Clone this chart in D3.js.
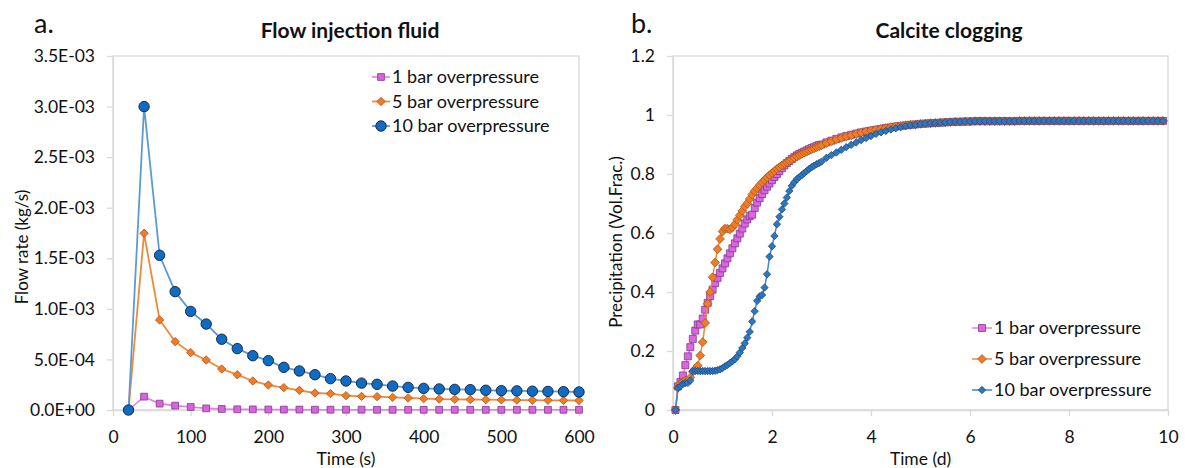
<!DOCTYPE html>
<html lang="en">
<head>
<meta charset="utf-8">
<title>Flow injection fluid / Calcite clogging</title>
<script src="https://d3js.org/d3.v7.min.js"></script>
<style>
  body { margin: 0; background: #fff; }
  svg text { font-family: Lato, "Open Sans", sans-serif; fill: #111; }
</style>
</head>
<body>
<svg id="chart" width="1185" height="468"></svg>
<script>
// ---- Panel a: flow injection fluid (kg/s), every 20 s
const timeSec = [20, 40, 60, 80, 100, 120, 140, 160, 180, 200, 220, 240, 260, 280, 300,
  320, 340, 360, 380, 400, 420, 440, 460, 480, 500, 520, 540, 560, 580, 600];
const flow1Bar = [0, 1.32e-4, 6.3e-5, 4.3e-5, 3.0e-5, 1.6e-5, 1.0e-5, 7e-6, 6e-6, 5e-6,
  4e-6, 4e-6, 3e-6, 3e-6, 3e-6, 3e-6, 2e-6, 2e-6, 2e-6, 2e-6,
  2e-6, 2e-6, 2e-6, 2e-6, 2e-6, 2e-6, 2e-6, 2e-6, 2e-6, 2e-6];
const flow5Bar = [0, 1.747e-3, 8.9e-4, 6.76e-4, 5.67e-4, 4.95e-4, 4.05e-4, 3.49e-4, 2.87e-4, 2.47e-4,
  2.21e-4, 1.95e-4, 1.68e-4, 1.62e-4, 1.42e-4, 1.35e-4, 1.32e-4, 1.25e-4, 1.19e-4, 1.12e-4,
  1.08e-4, 1.06e-4, 1.04e-4, 1.02e-4, 1.00e-4, 9.8e-5, 9.7e-5, 9.6e-5, 9.5e-5, 9.4e-5];
const flow10Bar = [0, 3.0e-3, 1.53e-3, 1.17e-3, 9.75e-4, 8.5e-4, 7.0e-4, 6.07e-4, 5.37e-4, 4.88e-4,
  4.22e-4, 3.86e-4, 3.49e-4, 3.1e-4, 2.87e-4, 2.66e-4, 2.54e-4, 2.37e-4, 2.24e-4, 2.14e-4,
  2.08e-4, 2.04e-4, 2.01e-4, 1.95e-4, 1.91e-4, 1.89e-4, 1.86e-4, 1.84e-4, 1.81e-4, 1.78e-4];
const xTicksA = [0, 100, 200, 300, 400, 500, 600];
const yTicksA = [0, 0.0005, 0.001, 0.0015, 0.002, 0.0025, 0.003, 0.0035];

// ---- Panel b: calcite clogging, precipitation (vol. frac.) over time (d)
const timeDays = [0.05, 0.1, 0.15, 0.2, 0.25, 0.3, 0.35, 0.4, 0.45, 0.5,
  0.55, 0.6, 0.65, 0.7, 0.75, 0.8, 0.85, 0.9, 0.95, 1,
  1.05, 1.1, 1.15, 1.2, 1.25, 1.3, 1.35, 1.4, 1.45, 1.5,
  1.55, 1.6, 1.65, 1.7, 1.75, 1.8, 1.85, 1.9, 1.95, 2,
  2.05, 2.1, 2.15, 2.2, 2.25, 2.3, 2.35, 2.4, 2.45, 2.5,
  2.55, 2.6, 2.65, 2.7, 2.75, 2.8, 2.85, 2.9, 2.95, 3,
  3.1, 3.2, 3.3, 3.4, 3.5, 3.6, 3.7, 3.8, 3.9, 4,
  4.1, 4.2, 4.3, 4.4, 4.5, 4.6, 4.7, 4.8, 4.9, 5,
  5.1, 5.2, 5.3, 5.4, 5.5, 5.6, 5.7, 5.8, 5.9, 6,
  6.1, 6.2, 6.3, 6.4, 6.5, 6.6, 6.7, 6.8, 6.9, 7,
  7.1, 7.2, 7.3, 7.4, 7.5, 7.6, 7.7, 7.8, 7.9, 8,
  8.1, 8.2, 8.3, 8.4, 8.5, 8.6, 8.7, 8.8, 8.9, 9,
  9.1, 9.2, 9.3, 9.4, 9.5, 9.6, 9.7, 9.8, 9.9];
const precip1Bar = [0, 0.08, 0.095, 0.117, 0.152, 0.182, 0.213, 0.241, 0.269, 0.29,
  0.29, 0.31, 0.34, 0.363, 0.386, 0.408, 0.43, 0.448, 0.465, 0.48,
  0.497, 0.514, 0.531, 0.548, 0.565, 0.582, 0.598, 0.615, 0.632, 0.646,
  0.657, 0.662, 0.685, 0.703, 0.718, 0.732, 0.745, 0.757, 0.768, 0.779,
  0.79, 0.8, 0.81, 0.82, 0.829, 0.837, 0.844, 0.851, 0.857, 0.863,
  0.868, 0.872, 0.876, 0.88, 0.884, 0.888, 0.891, 0.895, 0.898, 0.9,
  0.907, 0.913, 0.919, 0.924, 0.929, 0.933, 0.937, 0.941, 0.944, 0.947,
  0.95, 0.953, 0.956, 0.958, 0.961, 0.963, 0.965, 0.967, 0.968, 0.97,
  0.971, 0.972, 0.973, 0.974, 0.975, 0.976, 0.977, 0.977, 0.978, 0.978,
  0.979, 0.979, 0.979, 0.979, 0.979, 0.979, 0.979, 0.979, 0.979, 0.98,
  0.98, 0.98, 0.98, 0.98, 0.98, 0.98, 0.98, 0.98, 0.98, 0.98,
  0.98, 0.98, 0.98, 0.98, 0.98, 0.98, 0.98, 0.98, 0.98, 0.98,
  0.98, 0.98, 0.98, 0.98, 0.98, 0.98, 0.98, 0.98, 0.98];
const precip5Bar = [0, 0.075, 0.09, 0.095, 0.1, 0.1, 0.11, 0.13, 0.14, 0.15,
  0.185, 0.23, 0.295, 0.36, 0.4, 0.45, 0.5, 0.545, 0.58, 0.605,
  0.615, 0.615, 0.612, 0.618, 0.63, 0.645, 0.66, 0.675, 0.69, 0.7,
  0.715, 0.73, 0.742, 0.752, 0.762, 0.772, 0.78, 0.788, 0.796, 0.803,
  0.81, 0.817, 0.823, 0.829, 0.835, 0.84, 0.845, 0.85, 0.855, 0.86,
  0.864, 0.868, 0.872, 0.876, 0.88, 0.884, 0.887, 0.891, 0.894, 0.897,
  0.905, 0.911, 0.917, 0.922, 0.927, 0.931, 0.936, 0.94, 0.944, 0.947,
  0.95, 0.953, 0.956, 0.959, 0.961, 0.963, 0.965, 0.967, 0.968, 0.97,
  0.971, 0.972, 0.973, 0.974, 0.975, 0.976, 0.977, 0.977, 0.978, 0.978,
  0.979, 0.979, 0.979, 0.979, 0.979, 0.979, 0.979, 0.979, 0.979, 0.98,
  0.98, 0.98, 0.98, 0.98, 0.98, 0.98, 0.98, 0.98, 0.98, 0.98,
  0.98, 0.98, 0.98, 0.98, 0.98, 0.98, 0.98, 0.98, 0.98, 0.98,
  0.98, 0.98, 0.98, 0.98, 0.98, 0.98, 0.98, 0.98, 0.98];
const precip10Bar = [0, 0.075, 0.081, 0.088, 0.091, 0.092, 0.1, 0.132, 0.132, 0.132,
  0.132, 0.132, 0.132, 0.132, 0.132, 0.132, 0.133, 0.135, 0.138, 0.142,
  0.148, 0.153, 0.159, 0.165, 0.172, 0.182, 0.195, 0.21, 0.226, 0.245,
  0.265, 0.3, 0.335, 0.37, 0.385, 0.39, 0.415, 0.46, 0.52, 0.555,
  0.59, 0.63, 0.655, 0.68, 0.7, 0.72, 0.742, 0.76, 0.772, 0.782,
  0.789, 0.796, 0.803, 0.81, 0.817, 0.823, 0.828, 0.833, 0.837, 0.842,
  0.855, 0.864, 0.873, 0.882, 0.891, 0.899, 0.907, 0.915, 0.922, 0.929,
  0.936, 0.941, 0.946, 0.951, 0.955, 0.959, 0.962, 0.965, 0.967, 0.969,
  0.971, 0.972, 0.973, 0.974, 0.975, 0.976, 0.977, 0.977, 0.978, 0.978,
  0.979, 0.979, 0.979, 0.979, 0.979, 0.979, 0.979, 0.979, 0.979, 0.98,
  0.98, 0.98, 0.98, 0.98, 0.98, 0.98, 0.98, 0.98, 0.98, 0.98,
  0.98, 0.98, 0.98, 0.98, 0.98, 0.98, 0.98, 0.98, 0.98, 0.98,
  0.98, 0.98, 0.98, 0.98, 0.98, 0.98, 0.98, 0.98, 0.98];
const xTicksB = [0, 2, 4, 6, 8, 10];
const yTicksB = [0, 0.2, 0.4, 0.6, 0.8, 1, 1.2];

const seriesNames = ["1 bar overpressure", "5 bar overpressure", "10 bar overpressure"];

// Marker shapes
const squarePath = s => `M${-s},${-s}h${2 * s}v${2 * s}h${-2 * s}Z`;
const diamondPath = r => `M0,${-r}L${r},0L0,${r}L${-r},0Z`;
const circlePath = r => `M${r},0A${r},${r} 0 1,1 ${-r},0A${r},${r} 0 1,1 ${r},0Z`;

// Excel style scientific format: 3.5E-03
function sciFormat(v) {
  if (v === 0) return "0.0E+00";
  const e = Math.floor(Math.log10(v) + 1e-9);
  const m = v / Math.pow(10, e);
  const sign = e < 0 ? "-" : "+";
  return m.toFixed(1) + "E" + sign + String(Math.abs(e)).padStart(2, "0");
}

const svg = d3.select("#chart");
const axisGrey = "#d9d9d9";

function drawPanel(cfg) {
  const g = svg.append("g");
  const x = d3.scaleLinear().domain(cfg.xDomain).range(cfg.xRange);
  const y = d3.scaleLinear().domain(cfg.yDomain).range(cfg.yRange);

  // plot border (top / right)
  g.append("rect")
    .attr("x", cfg.xRange[0]).attr("y", cfg.yRange[1])
    .attr("width", cfg.xRange[1] - cfg.xRange[0])
    .attr("height", cfg.yRange[0] - cfg.yRange[1])
    .attr("fill", "none").attr("stroke", axisGrey).attr("stroke-width", 1.3);

  // axes
  const xAxis = g.append("g")
    .attr("transform", `translate(0,${cfg.yRange[0]})`)
    .call(d3.axisBottom(x).tickValues(cfg.xTicks).tickSize(6).tickSizeOuter(0).tickPadding(15)
      .tickFormat(d3.format("d")));
  const yAxis = g.append("g")
    .attr("transform", `translate(${cfg.xRange[0]},0)`)
    .call(d3.axisLeft(y).tickValues(cfg.yTicks).tickSize(6).tickSizeOuter(0).tickPadding(12)
      .tickFormat(cfg.yFormat));
  [xAxis, yAxis].forEach(a => {
    a.select(".domain").attr("stroke", axisGrey).attr("stroke-width", 1.3);
    a.selectAll(".tick line").attr("stroke", axisGrey).attr("stroke-width", 1.3);
    a.selectAll(".tick text").style("font-size", "17.5px").attr("fill", "#111");
  });

  // series: lines then markers
  cfg.series.forEach(s => {
    const pts = cfg.xs.map((t, i) => [t, s.values[i]]);
    g.append("path")
      .datum(pts)
      .attr("fill", "none")
      .attr("stroke", s.line)
      .attr("stroke-width", s.lineWidth)
      .attr("d", d3.line().x(d => x(d[0])).y(d => y(d[1])));
    g.append("g").selectAll("path")
      .data(pts)
      .join("path")
      .attr("transform", d => `translate(${x(d[0])},${y(d[1])})`)
      .attr("d", s.marker)
      .attr("fill", s.fill)
      .attr("stroke", s.stroke)
      .attr("stroke-width", s.strokeWidth);
  });

  // legend
  const lg = g.append("g");
  cfg.series.forEach((s, i) => {
    const ly = cfg.legend.y + i * cfg.legend.step;
    lg.append("line")
      .attr("x1", cfg.legend.x).attr("x2", cfg.legend.x + cfg.legend.len)
      .attr("y1", ly).attr("y2", ly)
      .attr("stroke", s.line).attr("stroke-width", s.lineWidth);
    lg.append("path")
      .attr("transform", `translate(${cfg.legend.x + cfg.legend.len / 2},${ly})`)
      .attr("d", s.legendMarker || s.marker)
      .attr("fill", s.fill).attr("stroke", s.stroke).attr("stroke-width", s.strokeWidth);
    lg.append("text")
      .attr("x", cfg.legend.x + cfg.legend.len + 2)
      .attr("y", ly)
      .attr("dy", "0.35em")
      .style("font-size", "18px")
      .text(seriesNames[i]);
  });

  // titles and labels
  g.append("text")
    .attr("x", cfg.tag[0]).attr("y", cfg.tag[1])
    .style("font-size", "27px")
    .text(cfg.tagText);
  g.append("text")
    .attr("x", cfg.titleX).attr("y", 38)
    .attr("text-anchor", "middle")
    .style("font-size", "21px").style("font-weight", "bold")
    .text(cfg.title);
  g.append("text")
    .attr("x", (cfg.xRange[0] + cfg.xRange[1]) / 2).attr("y", 465)
    .attr("text-anchor", "middle")
    .style("font-size", "17.5px")
    .text(cfg.xLabel);
  g.append("text")
    .attr("transform", `translate(${cfg.yLabelPos[0]},${cfg.yLabelPos[1]}) rotate(-90)`)
    .attr("text-anchor", "middle")
    .style("font-size", "17px")
    .text(cfg.yLabel);
}

// Panel a
drawPanel({
  xs: timeSec,
  xDomain: [0, 600], xRange: [113, 579],
  yDomain: [0, 0.0035], yRange: [410, 56],
  xTicks: xTicksA, yTicks: yTicksA, yFormat: sciFormat,
  tag: [34, 33], tagText: "a.",
  title: "Flow injection fluid", titleX: 350,
  xLabel: "Time (s)",
  yLabel: "Flow rate (kg/s)", yLabelPos: [28, 247],
  legend: { x: 372, y: 77, step: 24.5, len: 18 },
  series: [
    { values: flow1Bar, line: "#e57de9", lineWidth: 1.6, marker: squarePath(3.4),
      fill: "#d962dd", stroke: "#7e3a8c", strokeWidth: 0.8 },
    { values: flow5Bar, line: "#f2893a", lineWidth: 1.8, marker: diamondPath(4.2),
      fill: "#f07d26", stroke: "#a8561a", strokeWidth: 0.8 },
    { values: flow10Bar, line: "#5b9bd5", lineWidth: 1.8, marker: circlePath(5.2),
      fill: "#0f6cc4", stroke: "#1b2a44", strokeWidth: 1 }
  ]
});

// Panel b
drawPanel({
  xs: timeDays,
  xDomain: [0, 10], xRange: [673, 1168],
  yDomain: [0, 1.2], yRange: [410, 56],
  xTicks: xTicksB, yTicks: yTicksB, yFormat: d => String(d),
  tag: [631, 33], tagText: "b.",
  title: "Calcite clogging", titleX: 949,
  xLabel: "Time (d)",
  yLabel: "Precipitation (Vol.Frac.)", yLabelPos: [622, 242],
  legend: { x: 972, y: 328, step: 31, len: 20 },
  series: [
    { values: precip1Bar, line: "#e57de9", lineWidth: 1.5, marker: squarePath(3.5),
      fill: "#dc66e0", stroke: "#7e3a8c", strokeWidth: 0.8 },
    { values: precip5Bar, line: "#f2893a", lineWidth: 1.5, marker: diamondPath(4.4),
      fill: "#f07d26", stroke: "#a8561a", strokeWidth: 0.8 },
    { values: precip10Bar, line: "#3f87d0", lineWidth: 1.5, marker: diamondPath(3.7),
      fill: "#2f76bf", stroke: "#1d4c80", strokeWidth: 0.8 }
  ]
});
</script>
</body>
</html>
